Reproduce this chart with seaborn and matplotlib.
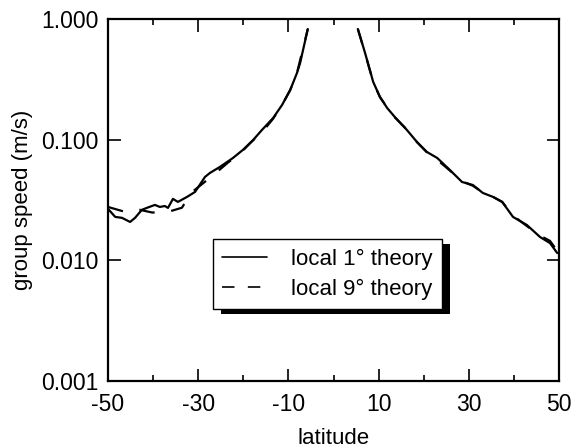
import numpy as np
import pandas as pd
import matplotlib
matplotlib.use("Agg")
import matplotlib.pyplot as plt
from matplotlib.patches import Rectangle
from matplotlib.lines import Line2D
from matplotlib.ticker import FixedLocator, FixedFormatter
import seaborn as sns

# ---- data ----
lat1_south = [-50.0, -48.4, -46.9, -45.1, -44.0, -42.5, -41.4, -39.6, -38.5, -37.4, -36.7,
              -35.6, -34.5, -32.5, -30.7, -28.5, -27.4, -25.2, -22.3, -20.1, -17.8, -15.9,
              -13.4, -11.4, -9.6, -8.1, -7.4, -5.7]
spd1_south = [0.0267, 0.0229, 0.0225, 0.0208, 0.0225, 0.0262, 0.0272, 0.0288, 0.0277, 0.0282, 0.0272,
              0.0323, 0.0305, 0.0335, 0.0369, 0.0491, 0.0530, 0.0594, 0.0705, 0.0822, 0.0995, 0.120,
              0.151, 0.194, 0.258, 0.357, 0.432, 0.826]
lat1_north = [5.4, 7.0, 8.8, 10.3, 11.9, 13.6, 16.3, 18.5, 20.7, 23.0, 25.8, 28.5, 30.9,
              33.1, 35.4, 37.4, 39.8, 42.9, 45.8, 48.0, 49.6]
spd1_north = [0.826, 0.523, 0.301, 0.226, 0.183, 0.154, 0.120, 0.0957, 0.0791, 0.0705, 0.0561,
              0.0446, 0.0421, 0.0362, 0.0335, 0.0305, 0.0229, 0.0196, 0.0156, 0.0139, 0.0115]

lat9_south = [-50.0, -46.2, -42.9, -40.2, -36.7, -33.6, -31.6, -29.4, -26.1, -23.5, -20.6,
              -18.4, -15.6, -13.4, -11.4, -9.6, -8.1, -5.7]
spd9_south = [0.0277, 0.0252, 0.0262, 0.0249, 0.0252, 0.0273, 0.0362, 0.0421, 0.0530, 0.0641,
              0.0776, 0.0942, 0.118, 0.149, 0.194, 0.258, 0.357, 0.826]
lat9_north = [5.4, 7.0, 8.8, 10.3, 11.9, 13.6, 16.3, 18.5, 20.7, 23.0, 25.8, 28.5, 30.9,
              33.1, 35.4, 37.4, 39.8, 42.9, 45.8, 48.0, 49.6]
spd9_north = [0.826, 0.520, 0.300, 0.225, 0.185, 0.153, 0.121, 0.0955, 0.0785, 0.068, 0.0555,
              0.0452, 0.0415, 0.0365, 0.0335, 0.0305, 0.0235, 0.0192, 0.0160, 0.0145, 0.0120]

series_labels = ["local 1\u00b0 theory", "local 9\u00b0 theory"]
x_major = [-50, -30, -10, 10, 30, 50]
x_minor = [-40, -20, 0, 20, 40]
y_ticks = [0.001, 0.01, 0.1, 1.0]
y_ticklabels = ["0.001", "0.010", "0.100", "1.000"]

# ---- build tables ----
def frame(lats_s, v_s, lats_n, v_n, label):
    a = pd.DataFrame({"lat": lats_s, "speed": v_s, "branch": "S"})
    b = pd.DataFrame({"lat": lats_n, "speed": v_n, "branch": "N"})
    d = pd.concat([a, b], ignore_index=True)
    d["series"] = label
    return d

df1 = frame(lat1_south, spd1_south, lat1_north, spd1_north, series_labels[0])
df9 = frame(lat9_south, spd9_south, lat9_north, spd9_north, series_labels[1])

sns.set_theme(style="ticks")
plt.rcParams["font.family"] = ["Liberation Sans", "DejaVu Sans"]
plt.rcParams["text.color"] = "black"
plt.rcParams["axes.labelcolor"] = "black"

fig = plt.figure(figsize=(5.75, 4.48), dpi=100)
ax = fig.add_axes([108 / 575, 1 - 381 / 448, (559 - 108) / 575, (381 - 19) / 448])

lw = 1.6
dash = (7, 7.5)
sns.lineplot(data=df1, x="lat", y="speed", units="branch", estimator=None, sort=False,
             color="black", lw=lw, ax=ax, legend=False)
sns.lineplot(data=df9, x="lat", y="speed", units="branch", estimator=None, sort=False,
             color="black", lw=lw, ax=ax, legend=False)
ax.lines[-2].set_dashes(dash)
ax.lines[-1].set_dashes(dash)

ax.set_yscale("log")
ax.set_xlim(-50, 50)
ax.set_ylim(0.001, 1.0)
ax.xaxis.set_major_locator(FixedLocator(x_major))
ax.xaxis.set_minor_locator(FixedLocator(x_minor))
ax.yaxis.set_major_locator(FixedLocator(y_ticks))
ax.yaxis.set_major_formatter(FixedFormatter(y_ticklabels))
ax.yaxis.set_minor_locator(FixedLocator([]))
ax.set_xticklabels([str(v) for v in x_major])

for s in ax.spines.values():
    s.set_visible(True)
    s.set_color("black")
    s.set_linewidth(1.6)

ax.tick_params(which="major", direction="in", length=9, width=1.2, top=True, right=True,
               labelsize=16.5, colors="black")
ax.tick_params(axis="x", which="major", pad=8.5)
ax.tick_params(axis="y", which="major", pad=7)
ax.tick_params(which="minor", direction="in", length=4.5, width=1.2, top=True, right=True,
               colors="black")
ax.set_xlabel("latitude", fontsize=16, labelpad=9, color="black")
ax.set_ylabel("group speed (m/s)", fontsize=16, labelpad=6, color="black")

handles = [Line2D([], [], color="black", lw=1.2),
           Line2D([], [], color="black", lw=1.2, dashes=(7.5, 8))]
leg = ax.legend(handles, series_labels, loc="upper left", bbox_to_anchor=(0.233, 0.392),
                frameon=True, fancybox=False, framealpha=1, edgecolor="black",
                fontsize=16, handlelength=2.0, handletextpad=1.1, labelspacing=0.4,
                borderpad=0.42, borderaxespad=0)
leg.get_frame().set_linewidth(1.0)
for t in leg.get_texts():
    t.set_color("black")
leg.set_zorder(5)

fig.canvas.draw()
bb = leg.get_frame().get_window_extent(fig.canvas.get_renderer())
inv = fig.transFigure.inverted()
(x0, y0), (x1, y1) = inv.transform([[bb.x0, bb.y0], [bb.x1, bb.y1]])
dx, dy = 8 / 575, 5 / 448
shadow = Rectangle((x0 + dx, y0 - dy), x1 - x0, y1 - y0, transform=fig.transFigure,
                   facecolor="black", edgecolor="none", zorder=4)
ax.add_artist(shadow)
shadow.set_clip_on(False)

fig.savefig("out.png", dpi=100)
